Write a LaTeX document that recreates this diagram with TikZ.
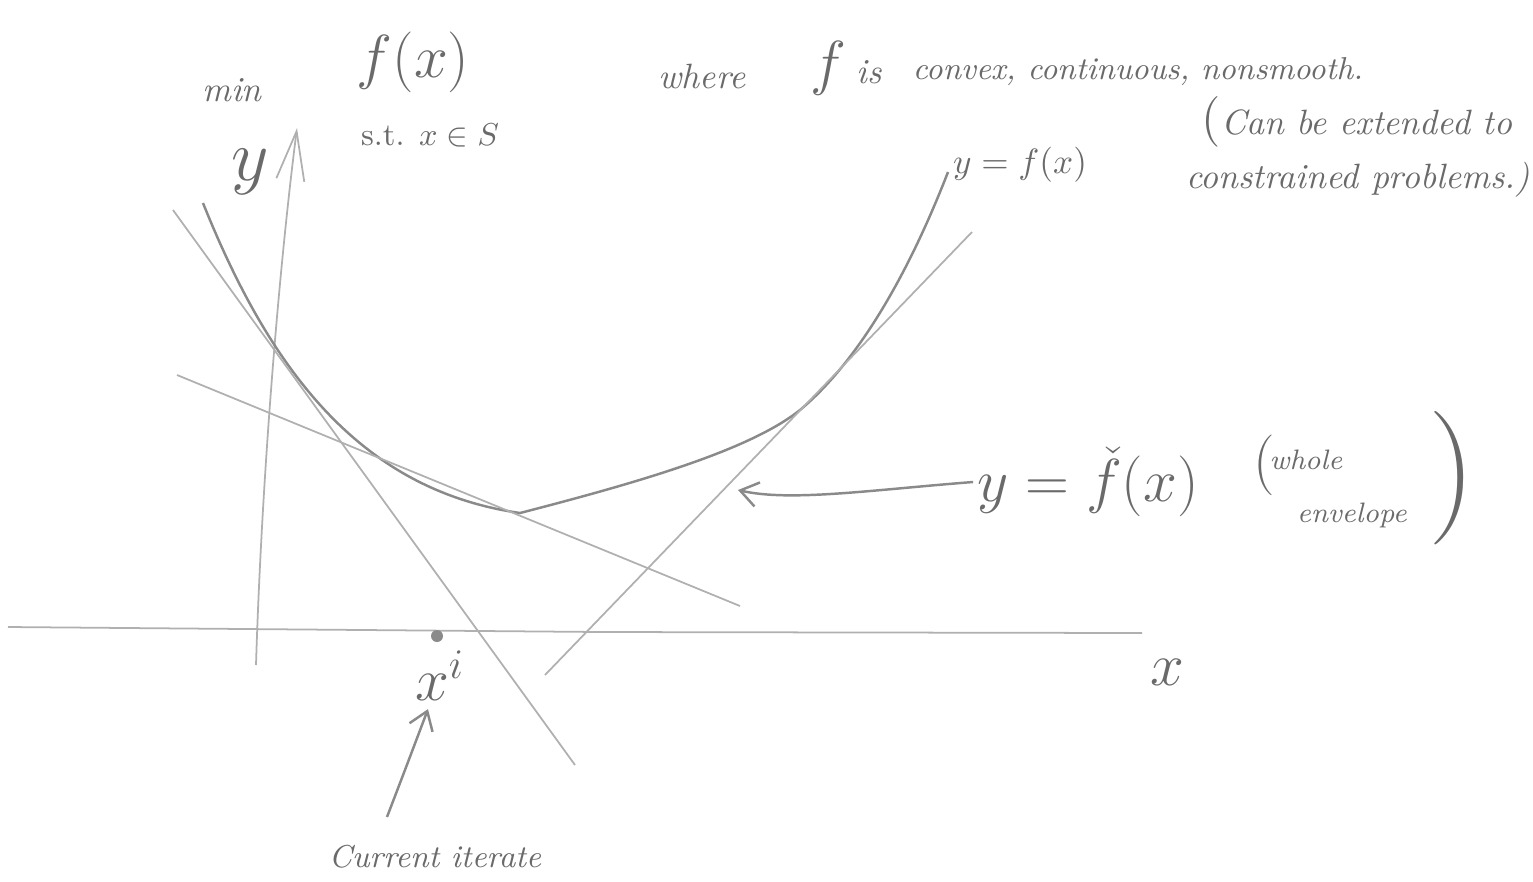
\documentclass[tikz,border=0pt]{standalone}
\usepackage{amsmath}
\usepackage{amssymb}
\usepackage{tikz}
\usetikzlibrary{arrows.meta,calc}
\definecolor{pencil}{HTML}{8A8A8A}
\definecolor{pencillight}{HTML}{B0B0B0}
\definecolor{pencilink}{HTML}{6A6A6A}

\begin{document}
\begin{tikzpicture}[x=0.01cm,y=-0.01cm,
    every node/.style={text=pencilink,inner sep=1pt},
    sketch/.style={pencillight,line width=0.5pt},
    curve/.style={pencil,line width=0.7pt},
    barb/.style={-{Straight Barb[length=5pt,width=7pt]}}]
  \useasboundingbox (0,0) rectangle (1533,881);
  % axes
  \draw[sketch] (8,627) -- (600,632) -- (1142,633);
  \draw[sketch,-{Straight Barb[length=14pt,width=8pt]}] (256,665) .. controls (262,470) and (280,260) .. (297,128);
  \node (xlab) at (1167,672) {\LARGE$x$};
  \node (ylab) at (250,172) {\huge$y$};
  % the function and its cutting planes
  \draw[curve] (203,203) .. controls (270,370) and (360,490) .. (520,513)
    .. controls (640,482) and (750,450) .. (800,410)
    .. controls (860,360) and (910,270) .. (948,172);
  \draw[sketch] (173,210) -- (575,765);
  \draw[sketch] (177,375) -- (740,606);
  \draw[sketch] (972,232) -- (545,675);
  % current iterate
  \fill[pencil] (437,636) circle (6);
  \node (xi) at (440,676) {\LARGE$x^i$};
  \node (iter) at (435,857) {\small\itshape Current iterate};
  \coordinate (itail) at (387,817);
  \draw[curve,barb] (itail) .. controls (405,770) .. ($(xi.south)+(-12,4)$);
  % labels
  \node (minlab) at (232,90) {\itshape min};
  \node (flab) at (413,62) {\LARGE$f(x)$};
  \node (stlab) at (430,135) {\small$\text{s.t. } x\in S$};
  \node (wherelab) at (702,76) {\itshape where};
  \node (fis) at (846,68) {{\LARGE$f$}\;\itshape is};
  \node (props) at (1138,72) {\small\itshape convex, continuous, nonsmooth.};
  \node (ext1) at (1357,122) {{\Large(}\itshape Can be extended to};
  \node (ext2) at (1358,180) {\itshape constrained problems.)};
  \node (fcurve) at (1020,165) {$y=f(x)$};
  \node (envlab) at (1088,482) {\LARGE$y=\check{f}(x)$};
  \node (envl) at (1264,465) {\LARGE(};
  \node (whole) at (1306,460) {\footnotesize\itshape whole};
  \node (envel) at (1352,515) {\footnotesize\itshape envelope};
  \node (envr) at (1452,478) {\fontsize{38}{40}\selectfont)};
  \coordinate (etip) at (738,490);
  \draw[curve,barb] (envlab.west) .. controls (870,490) and (790,502) .. (etip);
\end{tikzpicture}
\end{document}
